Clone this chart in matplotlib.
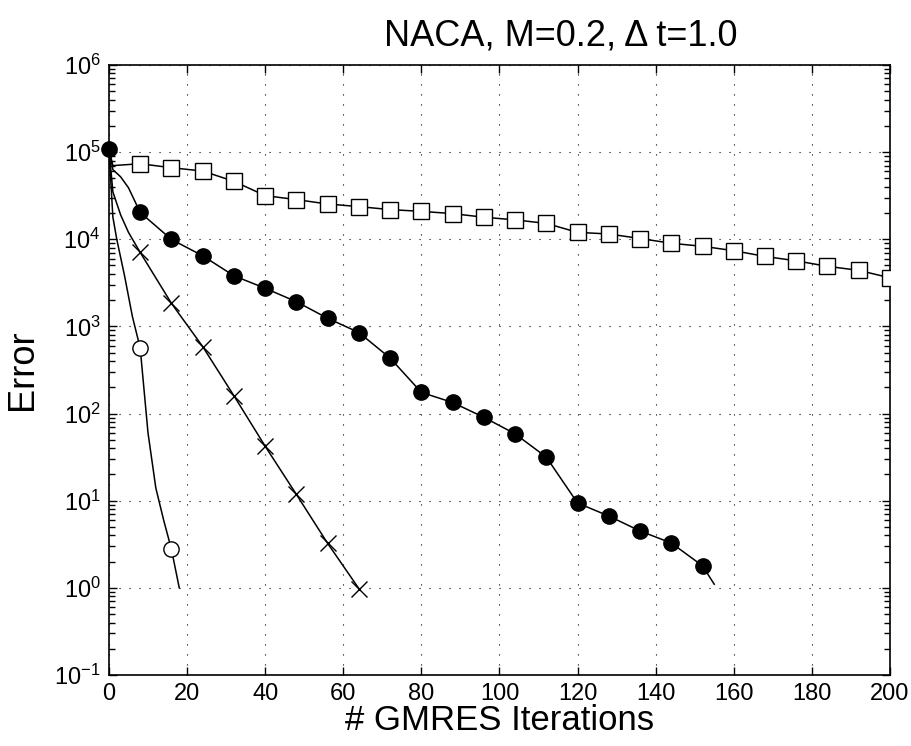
import matplotlib
matplotlib.use('Agg')
import matplotlib.pyplot as plt
from matplotlib.ticker import LogLocator, MultipleLocator

plt.rcParams['font.family'] = ['Liberation Sans', 'DejaVu Sans']

# Marker values (every 8 GMRES iterations)
sq_it = [8, 16, 24, 32, 40, 48, 56, 64, 72, 80, 88, 96, 104, 112, 120, 128,
         136, 144, 152, 160, 168, 176, 184, 192, 200]
sq_err = [7.36e4, 6.62e4, 6.07e4, 4.62e4, 3.17e4, 2.85e4, 2.54e4, 2.37e4,
          2.19e4, 2.09e4, 1.97e4, 1.79e4, 1.67e4, 1.52e4, 1.20e4, 1.15e4, 1.02e4,
          9.0e3, 8.3e3, 7.4e3, 6.35e3, 5.66e3, 4.89e3, 4.40e3, 3.61e3]

dot_it = [0, 8, 16, 24, 32, 40, 48, 56, 64, 72, 80, 88, 96, 104, 112, 120, 128,
          136, 144, 152]
dot_err = [1.1e5, 2.03e4, 9.95e3, 6.46e3, 3.81e3, 2.74e3, 1.92e3, 1.24e3, 851,
           433, 175, 134, 90.6, 58.5, 31.6, 9.4, 6.67, 4.49, 3.27, 1.79]

x_it = [8, 16, 24, 32, 40, 48, 56, 64]
x_err = [7.06e3, 1.84e3, 587, 160, 42.2, 11.8, 3.24, 0.98]

o_it = [8, 16]
o_err = [564, 2.77]

# Residual history lines (markers plus a few extra points read between them)
sq_line_it = [0, 1] + sq_it
sq_line_err = [1.1e5, 7.0e4] + sq_err

dot_line_it = [0, 1, 3, 5] + dot_it[1:] + [155]
dot_line_err = [1.1e5, 6.3e4, 5.2e4, 3.9e4] + dot_err[1:] + [1.1]

x_line_it = [0, 1, 3, 5] + x_it
x_line_err = [1.1e5, 3.5e4, 1.9e4, 1.2e4] + x_err

o_line_it = [0, 1, 2, 4, 6, 8, 10, 12, 14, 16, 18]
o_line_err = [1.1e5, 1.8e4, 1.0e4, 3.8e3, 1.3e3, 564, 60, 14, 6.0, 2.77, 1.0]


def main():
    fig = plt.figure(figsize=(9.11, 7.46), dpi=100)
    ax = fig.add_axes([0.1196, 0.0952, 0.8573, 0.8177])

    # Lines
    for it, err in [(sq_line_it, sq_line_err), (dot_line_it, dot_line_err),
                    (x_line_it, x_line_err), (o_line_it, o_line_err)]:
        ax.semilogy(it, err, color='k', lw=1.1, zorder=3)

    # Markers
    ax.semilogy(o_it, o_err, 'o', ms=11, mfc='white', mec='k', mew=1.0, zorder=4)
    ax.semilogy(x_it, x_err, 'x', ms=12, mec='k', mew=1.0, zorder=4)
    ax.semilogy(sq_it, sq_err, 's', ms=11, mfc='white', mec='k', mew=1.0, zorder=4)
    ax.semilogy(dot_it, dot_err, 'o', ms=11, mfc='k', mec='k', zorder=5,
                clip_on=False)

    ax.set_xlim(0, 200)
    ax.set_ylim(1e-1, 1e6)
    ax.xaxis.set_major_locator(MultipleLocator(20))
    ax.yaxis.set_major_locator(LogLocator(base=10, numticks=20))
    ax.yaxis.set_minor_locator(LogLocator(base=10, subs=range(2, 10), numticks=20))

    ax.tick_params(which='both', direction='in', top=True, right=True,
                   labelsize=17, width=1)
    ax.tick_params(which='major', length=6, pad=6)
    ax.tick_params(which='minor', length=4)
    for s in ax.spines.values():
        s.set_linewidth(1.2)

    ax.grid(True, which='major', color='k', lw=0.8, linestyle=(0, (1, 8)))

    ax.set_title('NACA, M=0.2, Δ t=1.0', fontsize=26, pad=14, x=0.579)
    ax.set_xlabel('# GMRES Iterations', fontsize=25, labelpad=-1)
    ax.set_ylabel('Error', fontsize=26, labelpad=10)

    fig.savefig('out.png', dpi=100)


if __name__ == '__main__':
    main()
